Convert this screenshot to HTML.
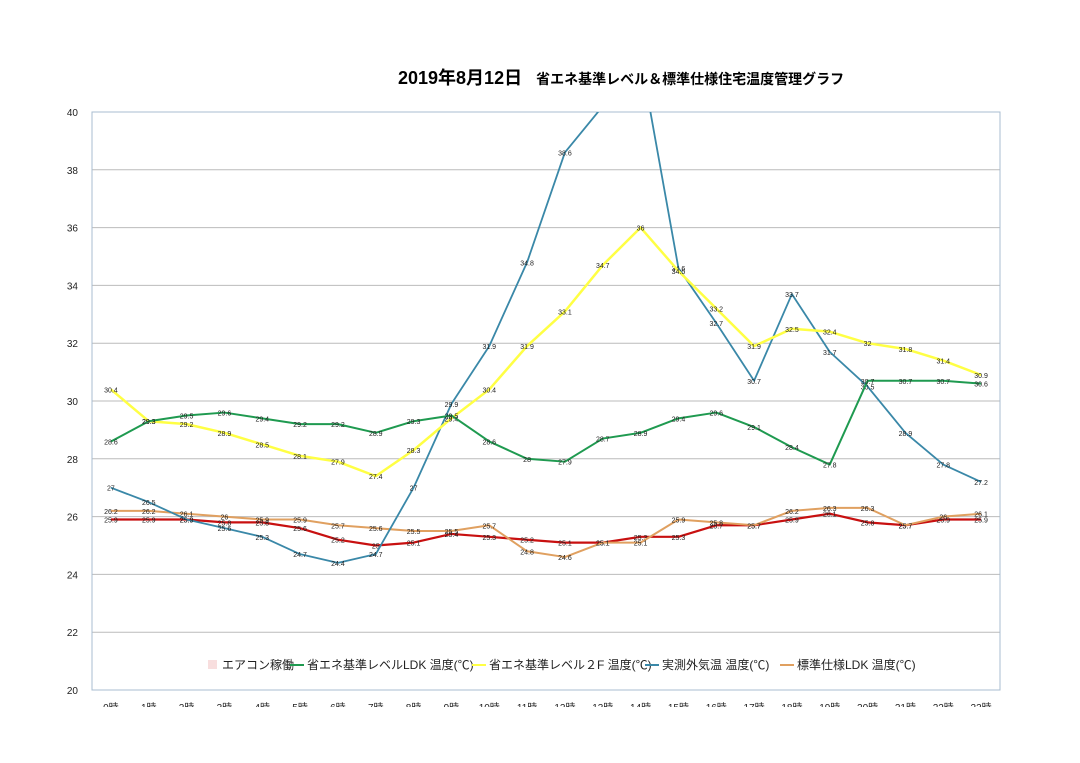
<!DOCTYPE html>
<html><head><meta charset="utf-8"><style>
body{margin:0;background:#fff;}
#wrap{position:relative;width:1080px;height:763px;overflow:hidden;font-family:"Liberation Sans","Noto Sans CJK JP",sans-serif;}
</style></head><body>
<div id="wrap">
<svg id="chart" width="1080" height="763"></svg>
</div>
<script>
const categories=["0時","1時","2時","3時","4時","5時","6時","7時","8時","9時","10時","11時","12時","13時","14時","15時","16時","17時","18時","19時","20時","21時","22時","23時"];
const greenLDK=[28.6,29.3,29.5,29.6,29.4,29.2,29.2,28.9,29.3,29.5,28.6,28.0,27.9,28.7,28.9,29.4,29.6,29.1,28.4,27.8,30.7,30.7,30.7,30.6];
const yellow2F=[30.4,29.3,29.2,28.9,28.5,28.1,27.9,27.4,28.3,29.4,30.4,31.9,33.1,34.7,36,34.5,33.2,31.9,32.5,32.4,32,31.8,31.4,30.9];
const outside=[27,26.5,25.9,25.6,25.3,24.7,24.4,24.7,27,29.9,31.9,34.8,38.6,40.2,41.9,34.6,32.7,30.7,33.7,31.7,30.5,28.9,27.8,27.2];
const standardLDK=[26.2,26.2,26.1,26,25.9,25.9,25.7,25.6,25.5,25.5,25.7,24.8,24.6,25.1,25.1,25.9,25.8,25.7,26.2,26.3,26.3,25.7,26,26.1];
const redLine=[25.9,25.9,25.9,25.8,25.8,25.6,25.2,25.0,25.1,25.4,25.3,25.2,25.1,25.1,25.3,25.3,25.7,25.7,25.9,26.1,25.8,25.7,25.9,25.9];
const yTicks=[20,22,24,26,28,30,32,34,36,38,40];
const NS="http://www.w3.org/2000/svg";
const svg=document.getElementById('chart');
const L=92,R=1000,T=112,B=690,yMin=20,yMax=40;
const band=(R-L)/categories.length;
const xs=i=>L+band*(i+0.5);
const ys=v=>B-(v-yMin)/(yMax-yMin)*(B-T);
function mk(t,a,p){const e=document.createElementNS(NS,t);for(const k in a)e.setAttribute(k,a[k]);(p||svg).appendChild(e);return e;}
const defs=mk('defs',{});
const cp=mk('clipPath',{id:'plotclip'},defs);mk('rect',{x:L,y:T,width:R-L,height:B-T},cp);
const cp2=mk('clipPath',{id:'xclip'},defs);mk('rect',{x:0,y:B,width:1080,height:17},cp2);
const title=mk('text',{x:398,y:84,'font-size':'18','font-weight':'bold',fill:'#000'});


title.innerHTML='2019年8月12日<tspan font-size="14" dx="14">省エネ基準レベル＆標準仕様住宅温度管理グラフ</tspan>';
yTicks.forEach(v=>{
 const g=mk('line',{x1:L,x2:R,y1:ys(v),y2:ys(v),stroke:'#bbb','stroke-width':1});
 
 
 const t=mk('text',{x:78,y:ys(v)+4,'text-anchor':'end','font-size':'10',fill:'#222'});
 
 
 t.textContent=v;
});
const fr=mk('rect',{x:L,y:T,width:R-L,height:B-T,fill:'none',stroke:'#a8bcd0','stroke-width':1});


const xg=mk('g',{'clip-path':'url(#xclip)'});


categories.forEach((c,i)=>{
 const t=mk('text',{x:xs(i),y:711,'text-anchor':'middle','font-size':'10',fill:'#222'},xg);
 
 
 t.textContent=c;
});
function series(data,color,w,name){
 const g=mk('g',{'clip-path':'url(#plotclip)'});
 
 
 const p=mk('polyline',{points:data.map((v,i)=>xs(i)+','+ys(v)).join(' '),fill:'none',stroke:color,'stroke-width':w,'stroke-linejoin':'round'},g);
 
 
 data.forEach((v,i)=>{
  if(v>yMax)return;
  const t=mk('text',{x:xs(i),y:ys(v)+3,'text-anchor':'middle','font-size':'7',fill:'#222'},g);
  
  
  t.textContent=v;
 });
}
series(redLine,'#c81010',2.2,'aircon-ldk');
series(standardLDK,'#e0a060',2,'standard-ldk');
series(outside,'#3a88a8',1.8,'outside-temp');
series(yellow2F,'#ffff44',2.5,'shoene-2f');
series(greenLDK,'#1f9a50',2,'shoene-ldk');
const legend=[['エアコン稼働','#f8dede','box'],['省エネ基準レベルLDK 温度(℃)','#1f9a50'],['省エネ基準レベル２F 温度(℃)','#ffff44'],['実測外気温 温度(℃)','#3a88a8'],['標準仕様LDK 温度(℃)','#e0a060']];
const tx=[222,307,489,662,797];
legend.forEach((e,i)=>{
 const g=mk('g',{});
 
 
 if(e[2])mk('rect',{x:tx[i]-14,y:660,width:9,height:9,fill:e[1]},g);
 else mk('line',{x1:tx[i]-17,x2:tx[i]-3,y1:665,y2:665,stroke:e[1],'stroke-width':2},g);
 const t=mk('text',{x:tx[i],y:669,'font-size':'12',fill:'#222'},g);
 t.textContent=e[0];
});
</script>
</body></html>
